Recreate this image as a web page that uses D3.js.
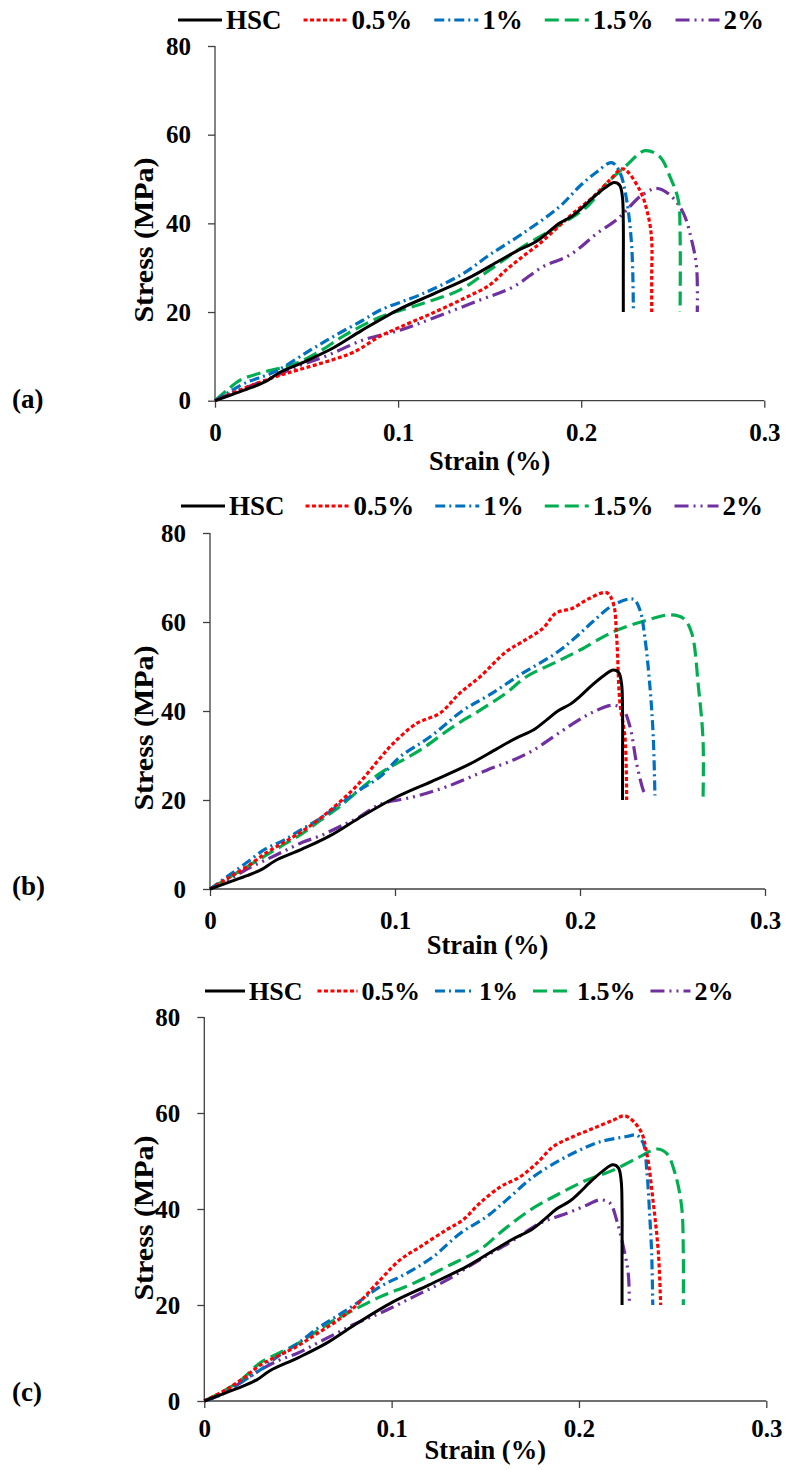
<!DOCTYPE html>
<html>
<head>
<meta charset="utf-8">
<script src="https://cdn.jsdelivr.net/npm/d3@7"></script>
<style>
  body { margin: 0; background: #fff; }
  svg text { font-family: "Liberation Serif", "Times New Roman", serif; font-weight: bold; fill: #000; }
</style>
</head>
<body>
<div class="chart"></div>
<script>
const w = 786;
const h = 1470;

// series names shown in the legends
const seriesNames = ["HSC", "0.5%", "1%", "1.5%", "2%"];
const panelLabels = ["(a)", "(b)", "(c)"];
const xTicks = [0, 0.1, 0.2, 0.3];
const yTicks = [0, 20, 40, 60, 80];

// [strain %, stress MPa]
const hsc = [[0,0],[0.01,1.5],[0.02,3],[0.028,4.4],[0.035,6.3],[0.05,9],[0.065,12],[0.08,15.8],[0.1,20.5],[0.12,24.2],[0.14,28],[0.155,31.5],[0.165,33.8],[0.175,35.8],[0.182,38],[0.188,40],[0.195,41.6],[0.2,43.3],[0.207,46],[0.213,48],[0.218,49.2],[0.221,48.6],[0.2225,46],[0.223,40],[0.223,30],[0.223,20]];

// panel (a)
const a05 = [[0,0],[0.016,2.8],[0.033,5.4],[0.045,6.9],[0.064,9.2],[0.076,11],[0.09,14.5],[0.101,16.6],[0.1174,19.5],[0.1356,23],[0.15,26.1],[0.159,29.5],[0.168,32.5],[0.1775,35.5],[0.1866,38.9],[0.1957,42.3],[0.2066,46],[0.2157,49.8],[0.2227,52.3],[0.232,47.5],[0.2367,41.5],[0.2385,36.2],[0.2385,28],[0.2385,20]];
const a10 = [[0,0],[0.0067,1.7],[0.016,3.9],[0.033,6.6],[0.052,11.4],[0.066,14.8],[0.081,18.2],[0.0901,20.4],[0.1138,24.2],[0.1356,28.7],[0.15,32.9],[0.168,37.7],[0.188,43.7],[0.199,48.3],[0.2085,51.6],[0.2166,53.7],[0.221,51.6],[0.2248,45.3],[0.2276,34.7],[0.2285,20]];
const a15 = [[0,0],[0.0067,2.4],[0.014,4.7],[0.028,6.6],[0.0425,8.1],[0.057,11.1],[0.071,14.8],[0.09,18.8],[0.1138,22],[0.1338,25],[0.15,29.5],[0.168,34.7],[0.1866,39.2],[0.203,43.7],[0.214,49],[0.2248,53.1],[0.2348,56.4],[0.243,55],[0.2485,50.5],[0.253,45.3],[0.254,37.7],[0.254,20]];
const a20 = [[0,0],[0.009,1.7],[0.028,4.7],[0.045,7.7],[0.062,10.3],[0.081,13.7],[0.101,15.9],[0.119,18.6],[0.1447,22.7],[0.163,25.7],[0.179,30.2],[0.194,32.9],[0.2085,37.7],[0.219,40.7],[0.2248,43],[0.232,46],[0.241,47.9],[0.2485,46.4],[0.2558,42.3],[0.2603,36.2],[0.263,30.2],[0.2634,20]];

// panel (b)
const b05 = [[0,0],[0.01,2.5],[0.02,5],[0.03,8],[0.04,10.5],[0.05,13],[0.06,16],[0.07,19.5],[0.08,23.5],[0.0919,29.4],[0.099,32.7],[0.1117,37.2],[0.1243,39.5],[0.135,44],[0.146,47.7],[0.16,53.3],[0.169,55.6],[0.18,58.6],[0.187,62],[0.196,63.1],[0.205,65.3],[0.2144,66.6],[0.218,64.2],[0.2198,56.7],[0.2216,41.7],[0.2243,34.2],[0.2252,20]];
const b10 = [[0,0],[0.01,3],[0.02,6],[0.03,9],[0.04,11],[0.05,13.5],[0.06,16],[0.07,19],[0.08,22],[0.0919,25.2],[0.1027,29.7],[0.119,34.2],[0.137,40.2],[0.151,43.6],[0.169,48.5],[0.187,53],[0.198,56.7],[0.207,60.1],[0.218,63.8],[0.2288,65.1],[0.2324,62.7],[0.235,56.7],[0.2378,45.5],[0.2396,34.2],[0.2405,21]];
const b15 = [[0,0],[0.01,2.5],[0.02,5],[0.03,7.5],[0.04,10],[0.05,12.5],[0.06,15.5],[0.07,18.5],[0.08,22],[0.0919,26],[0.1135,31.2],[0.1315,36.5],[0.146,40.2],[0.16,44],[0.171,47.7],[0.1856,50.7],[0.2,53.7],[0.218,57.8],[0.236,60.4],[0.2486,61.6],[0.256,60.8],[0.2604,57.5],[0.264,45.5],[0.2665,33.5],[0.2665,20]];
const b20 = [[0,0],[0.01,2],[0.02,4.5],[0.03,6.5],[0.04,8.5],[0.05,10.5],[0.06,12],[0.07,14],[0.08,16],[0.0919,19],[0.11,20.7],[0.128,23],[0.1496,26.7],[0.164,29],[0.1748,31.2],[0.1856,34.2],[0.1964,37.2],[0.2072,39.8],[0.218,41.3],[0.2234,40.2],[0.227,36.5],[0.2306,28.2],[0.2342,22.2],[0.2357,20.9]];

// panel (c)
const c05 = [[0,0],[0.01,2],[0.02,4.5],[0.03,7.5],[0.04,9.5],[0.05,11.5],[0.06,14],[0.07,16.5],[0.08,19.5],[0.0938,25.2],[0.1045,29.4],[0.1152,32.1],[0.129,35.6],[0.138,37.7],[0.147,41.2],[0.158,44.6],[0.1685,46.7],[0.1774,49.5],[0.1863,53],[0.197,55.1],[0.2077,56.8],[0.2183,58.5],[0.2246,59.4],[0.2326,56.5],[0.2362,51.6],[0.2397,41.2],[0.2424,30.8],[0.2436,20]];
const c10 = [[0,0],[0.01,1.5],[0.02,4],[0.03,6.5],[0.04,9.5],[0.05,12],[0.06,15],[0.07,17.5],[0.08,20],[0.0938,23.8],[0.108,26.6],[0.122,30],[0.1365,34.9],[0.1507,38.4],[0.1614,41.9],[0.1756,46.7],[0.19,50.2],[0.2005,52.3],[0.2112,54],[0.2255,55.1],[0.2308,55.4],[0.2343,53.7],[0.2362,48.1],[0.2379,37.7],[0.2388,30.8],[0.2394,20]];
const c15 = [[0,0],[0.01,2],[0.02,4.5],[0.03,8],[0.04,10],[0.05,12],[0.06,14.5],[0.07,17],[0.08,19],[0.0938,21.7],[0.1116,24.5],[0.1294,28],[0.147,31.5],[0.1596,35.6],[0.174,39.8],[0.19,43.3],[0.204,46],[0.2183,48.1],[0.2326,50.9],[0.2415,52.5],[0.2468,51.6],[0.2513,47.4],[0.2548,40.5],[0.2557,30.8],[0.2557,20]];
const c20 = [[0,0],[0.01,1.5],[0.02,4],[0.03,6.5],[0.04,8.5],[0.05,10],[0.06,12],[0.07,14],[0.08,16],[0.0938,18.3],[0.1116,21.7],[0.1294,25.2],[0.147,29.4],[0.165,33.5],[0.179,37],[0.1935,39.1],[0.2041,40.8],[0.2112,41.9],[0.2166,41.2],[0.2201,37.7],[0.2237,32.1],[0.2263,26.6],[0.2269,20]];

const colors = ["#000000", "#ff0000", "#0070c0", "#00b050", "#7030a0"];
const dashes = [null, "4,2.5", "10,4,2,4", "14,6", "14,5,2,5,2,5"];

const panels = [
  {label: panelLabels[0], series: [hsc, a05, a10, a15, a20], x0: 215, x1: 764.3, y0: 400.7, y1: 46, legX: 178, legY: 20, legLen: 44, legGap: 22, legFont: 27, labY: 399, titleY: 240, tickPad: 16, xTitle: 69},
  {label: panelLabels[1], series: [hsc, b05, b10, b15, b20], x0: 210, x1: 765, y0: 889, y1: 533, legX: 181, legY: 506, legLen: 44, legGap: 21, legFont: 27, labY: 886, titleY: 728, tickPad: 15, xTitle: 65},
  {label: panelLabels[2], series: [hsc, c05, c10, c15, c20], x0: 204.3, x1: 766.3, y0: 1401, y1: 1017, legX: 205, legY: 991, legLen: 40, legGap: 15, legFont: 26, labY: 1392, titleY: 1218, tickPad: 11, xTitle: 58}
];

let svg = d3.select(".chart").append("svg").attr("width", w).attr("height", h);

let drawPanel = (p) => {
  let g = svg.append("g");
  let xScale = d3.scaleLinear().domain([0, 0.3]).range([p.x0, p.x1]);
  let yScale = d3.scaleLinear().domain([0, 80]).range([p.y0, p.y1]);

  const xAxis = d3.axisBottom(xScale).tickValues(xTicks).tickSize(7).tickPadding(p.tickPad).tickFormat(d3.format("~g"));
  const yAxis = d3.axisLeft(yScale).tickValues(yTicks).tickSize(7).tickPadding(17).tickFormat(d3.format("d"));

  let gx = g.append("g").attr("transform", "translate(0," + p.y0 + ")").call(xAxis);
  let gy = g.append("g").attr("transform", "translate(" + p.x0 + ",0)").call(yAxis);
  [gx, gy].forEach(a => {
    a.selectAll("path, line").attr("stroke", "#404040").attr("stroke-width", 1.3);
    a.selectAll("text").attr("font-size", 25).attr("font-family", "Liberation Serif").attr("font-weight", "bold").attr("fill", "#000");
  });
  gx.select(".domain").attr("d", "M" + p.x0 + ",0H" + p.x1);
  gy.select(".domain").attr("d", "M0," + p.y0 + "V" + p.y1);

  let line = d3.line()
    .x(d => xScale(d[0]))
    .y(d => yScale(d[1]))
    .curve(d3.curveCatmullRom.alpha(0.5));

  // draw 2% first so HSC ends on top
  [4, 3, 2, 1, 0].forEach(i => {
    g.append("path")
      .datum(p.series[i])
      .attr("d", line)
      .attr("fill", "none")
      .attr("stroke", colors[i])
      .attr("stroke-width", i == 0 ? 3 : 3.2)
      .attr("stroke-dasharray", dashes[i]);
  });

  g.append("text").text("Strain (%)")
    .attr("x", (p.x0 + p.x1) / 2).attr("y", p.y0 + p.xTitle)
    .attr("text-anchor", "middle").attr("font-size", 26.5);
  g.append("text").text("Stress (MPa)")
    .attr("transform", "translate(153," + p.titleY + ") rotate(-90) scale(1,0.9)")
    .attr("text-anchor", "middle").attr("font-size", 30);
  g.append("text").text(p.label)
    .attr("x", 12).attr("y", p.labY).attr("dy", "0.35em").attr("font-size", 27);

  // legend
  let lx = p.legX;
  seriesNames.forEach((name, i) => {
    g.append("line")
      .attr("x1", lx).attr("x2", lx + p.legLen)
      .attr("y1", p.legY).attr("y2", p.legY)
      .attr("stroke", colors[i]).attr("stroke-width", 3)
      .attr("stroke-dasharray", dashes[i]);
    let t = g.append("text").text(name)
      .attr("x", lx + p.legLen + 4).attr("y", p.legY + 8.5)
      .attr("font-size", p.legFont);
    lx += p.legLen + 4 + t.node().getComputedTextLength() + p.legGap;
  });
};

panels.forEach(drawPanel);
</script>
</body>
</html>
